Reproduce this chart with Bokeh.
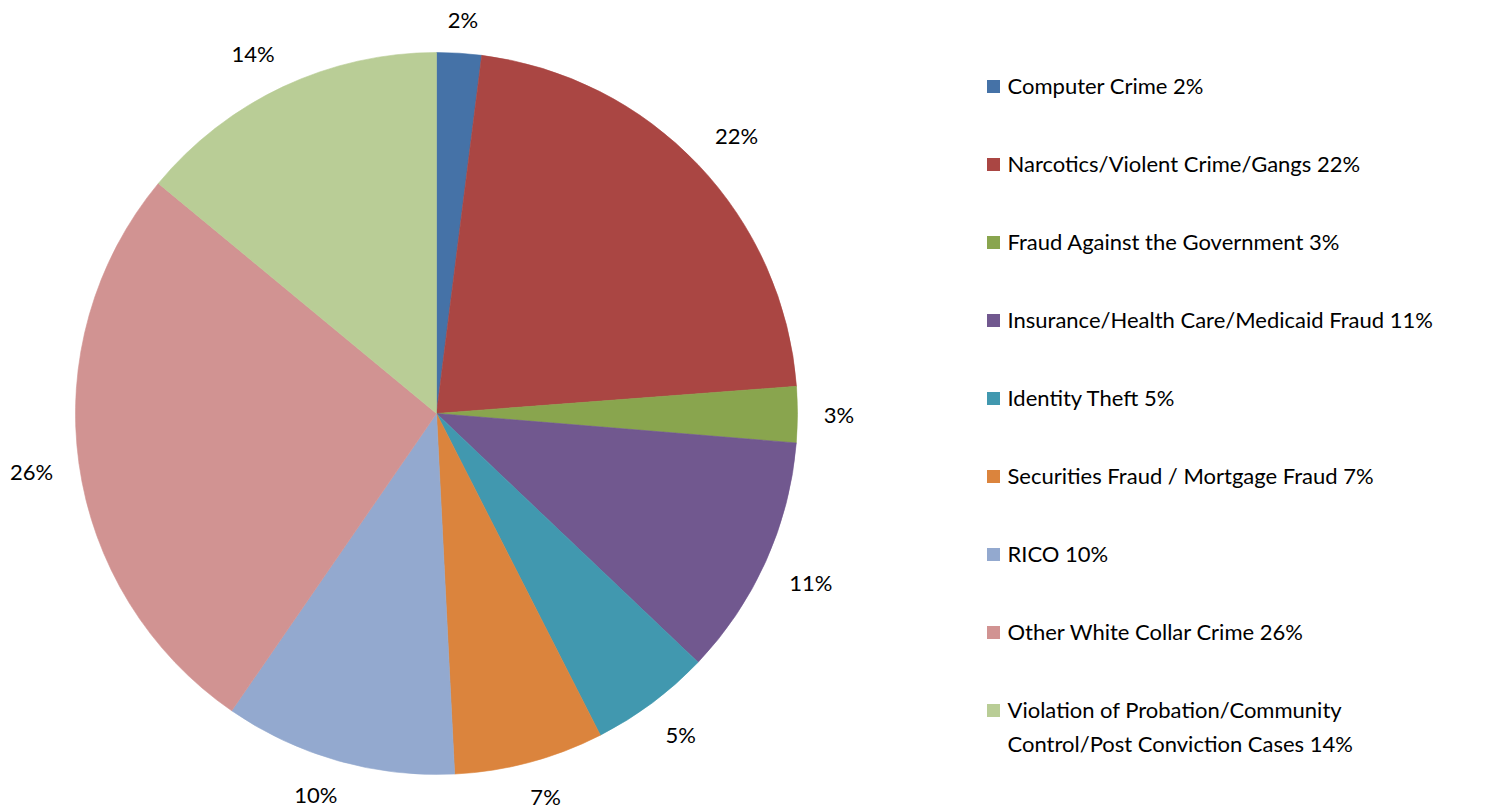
import math
from bokeh.plotting import figure
from bokeh.models import ColumnDataSource, Range1d
from bokeh.core.properties import value
from bokeh.embed import file_html
from bokeh.resources import INLINE

# ---- data ----
categories = [
    "Computer Crime  2%",
    "Narcotics/Violent Crime/Gangs 22%",
    "Fraud Against the Government  3%",
    "Insurance/Health Care/Medicaid Fraud  11%",
    "Identity Theft   5%",
    "Securities Fraud / Mortgage  Fraud   7%",
    "RICO  10%",
    "Other White Collar Crime  26%",
    "Violation of Probation/Community\nControl/Post Conviction Cases  14%",
]
shares = [2.0, 21.8, 2.5, 10.8, 5.4, 6.7, 10.4, 26.4, 14.0]
slice_labels = ["2%", "22%", "3%", "11%", "5%", "7%", "10%", "26%", "14%"]
colors = ["#4572A7", "#AA4643", "#89A54E", "#71588F", "#4198AF",
          "#DB843D", "#93A9CF", "#D19392", "#B9CD96"]

W, H = 1490, 809
FONT = "Lato"
FS = 22

p = figure(width=W, height=H, output_backend="svg", toolbar_location=None,
           x_range=Range1d(0, W), y_range=Range1d(0, H), min_border=0)
p.axis.visible = False
p.grid.visible = False
p.outline_line_color = None
p.background_fill_color = "white"

cx, cy, R = 436, H - 413, 361
total = sum(shares)
starts, ends, lx, ly = [], [], [], []
cum = 0.0
for v, lab in zip(shares, slice_labels):
    a0 = math.pi / 2 - 2 * math.pi * cum / total
    cum += v
    a1 = math.pi / 2 - 2 * math.pi * cum / total
    starts.append(a0)
    ends.append(a1)
    mid = (a0 + a1) / 2
    dx, dy = math.cos(mid), math.sin(mid)
    gap = 23 + 6 * abs(dx)
    w, h = 12.5 * len(lab), 20
    ox = w / 2 * max(-1, min(1, dx * 3))
    oy = h / 2 * max(-1, min(1, dy * 3))
    lx.append(cx + (R + gap) * dx + ox)
    ly.append(cy + (R + gap) * dy + oy)

src = ColumnDataSource(dict(start=starts, end=ends, color=colors,
                            lx=lx, ly=ly, lab=slice_labels))
p.wedge(x=cx, y=cy, radius=R, start_angle="start", end_angle="end",
        direction="clock", fill_color="color", line_color="color",
        line_width=0.6, source=src)
p.text(x="lx", y="ly", text="lab", source=src, text_font=value(FONT),
       text_font_size=f"{FS}px", text_color="black", text_align="center",
       text_baseline="middle")

# legend
leg_y0, leg_step = H - 86, 78
ly_leg = [leg_y0 - i * leg_step for i in range(len(categories))]
lsrc = ColumnDataSource(dict(y=ly_leg, color=colors, name=categories))
p.rect(x=993, y="y", width=13, height=13, fill_color="color",
       line_color=None, source=lsrc)
p.text(x=1007, y="y", text="name", source=lsrc, text_font=value(FONT),
       text_font_size=f"{FS}px", text_color="black", text_align="left",
       text_baseline="top", y_offset=-15, text_line_height=1.28)

open("out.html", "w").write(file_html(p, INLINE))
